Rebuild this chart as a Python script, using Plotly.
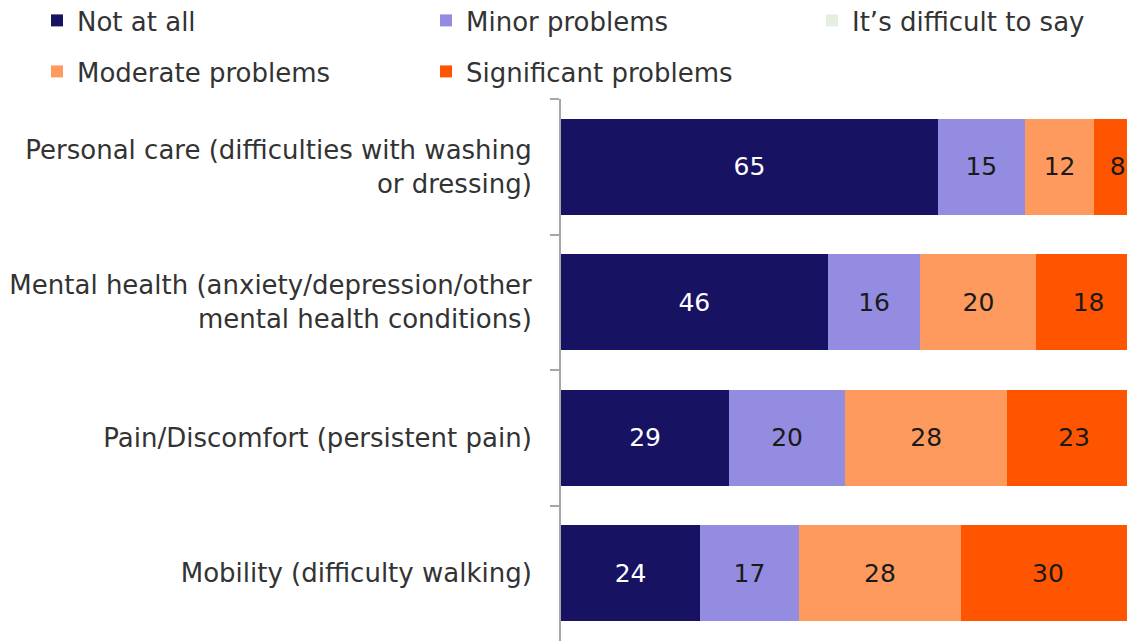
import plotly.graph_objects as go

categories = [
    "Personal care (difficulties with washing<br>or dressing)",
    "Mental health (anxiety/depression/other<br>mental health conditions)",
    "Pain/Discomfort (persistent pain)",
    "Mobility (difficulty walking)",
]
series_names = ["Not at all", "Minor problems", "It\u2019s difficult to say",
                "Moderate problems", "Significant problems"]
not_at_all = [65, 46, 29, 24]
minor = [15, 16, 20, 17]
difficult = [0, 0, 0, 0]
moderate = [12, 20, 28, 28]
significant = [8, 18, 23, 30]

values = [not_at_all, minor, difficult, moderate, significant]
colors = ["#171262", "#938CE0", "#E6EFDF", "#FF9A5E", "#FF5500"]
text_colors = ["#FFFFFF", "#1A1A1A", "#1A1A1A", "#1A1A1A", "#1A1A1A"]
legend_ids = ["legend", "legend", "legend3", "legend2", "legend2"]

FONT = "DejaVu Sans"

fig = go.Figure()
for name, vals, col, tcol, lg in zip(series_names, values, colors, text_colors, legend_ids):
    fig.add_trace(go.Bar(
        y=categories, x=vals, name=name, orientation="h",
        marker=dict(color=col, line=dict(width=0)),
        text=[str(v) if v > 0 else "" for v in vals],
        textposition="inside", insidetextanchor="middle",
        textfont=dict(family=FONT, size=25, color=tcol),
        legend=lg,
    ))

# the page body has an 8px margin, so the figure is sized to fill the rest
W = 1127
H = 633
L = 553
T = 91
plot_w = W - L
plot_h = H - T

legend_common = dict(
    orientation="h", xanchor="left", yanchor="top",
    font=dict(family=FONT, size=26, color="#333333"),
    entrywidth=344, entrywidthmode="pixels",
    bgcolor="rgba(0,0,0,0)", borderwidth=0, traceorder="normal",
)

row1_top = -11
row2_top = 40
fig.update_layout(
    width=W, height=H,
    margin=dict(l=L, r=0, t=T, b=0, autoexpand=False),
    barmode="stack", bargap=0.29,
    plot_bgcolor="white", paper_bgcolor="white",
    font=dict(family=FONT, size=26, color="#333333"),
    legend=dict(x=(29 - L) / plot_w, y=1 + (T - row1_top) / plot_h, **legend_common),
    legend3=dict(x=(804 - L) / plot_w, y=1 + (T - row1_top) / plot_h, **legend_common),
    legend2=dict(x=(29 - L) / plot_w, y=1 + (T - row2_top) / plot_h, **legend_common),
    xaxis=dict(range=[0, 99], visible=False, fixedrange=True),
    yaxis=dict(autorange="reversed", showline=True, linecolor="#A6A6A6", linewidth=2,
               ticks="outside", tickson="boundaries", ticklen=9, tickcolor="#A6A6A6",
               tickwidth=1.5, ticklabelstandoff=22,
               tickfont=dict(family=FONT, size=26, color="#333333"),
               showgrid=False, zeroline=False),
    showlegend=True,
)

fig.write_html("out.html")
